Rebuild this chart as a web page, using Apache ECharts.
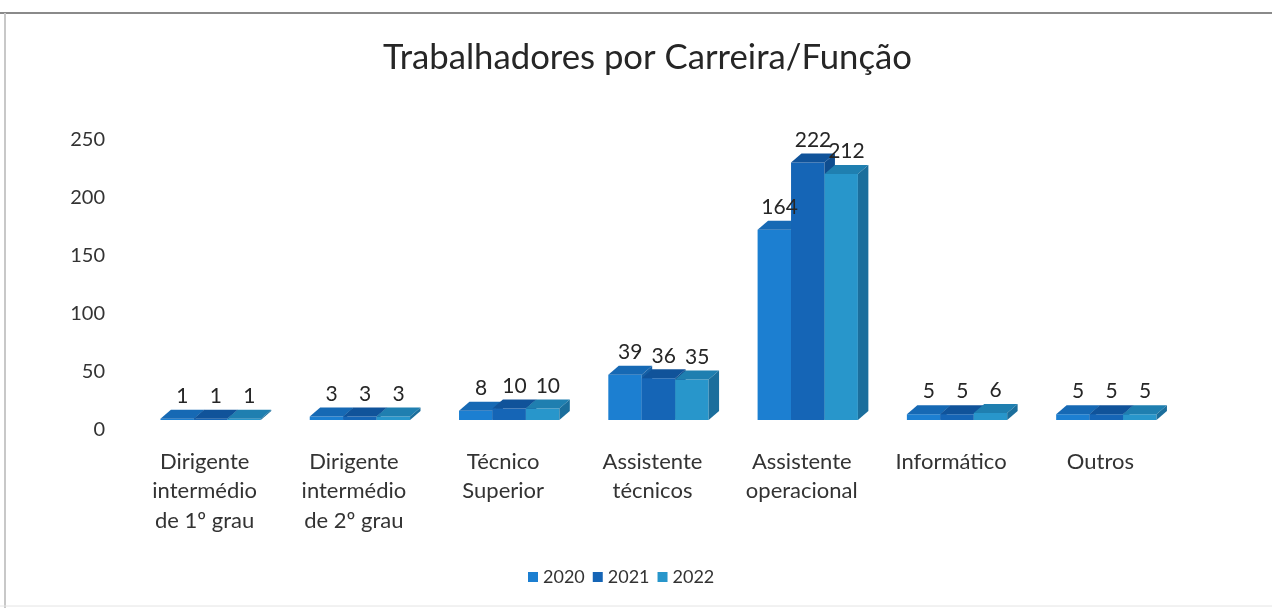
<!DOCTYPE html>
<html>
<head>
<meta charset="utf-8">
<script src="https://cdn.jsdelivr.net/npm/echarts@6/dist/echarts.min.js"></script>
<style>
html,body{margin:0;padding:0;background:#fff;}
#c{width:1272px;height:608px;}
</style>
</head>
<body>
<div id="c"></div>
<script>
var categories = ['Dirigente\nintermédio\nde 1º grau', 'Dirigente\nintermédio\nde 2º grau', 'Técnico\nSuperior', 'Assistente\ntécnicos', 'Assistente\noperacional', 'Informático', 'Outros'];
var years = ['2020', '2021', '2022'];
var values2020 = [1, 3, 8, 39, 164, 5, 5];
var values2021 = [1, 3, 10, 36, 222, 5, 5];
var values2022 = [1, 3, 10, 35, 212, 6, 5];
var yTicks = [0, 50, 100, 150, 200, 250];

var seriesValues = [values2020, values2021, values2022];
var frontColors = ['#1c7fd1', '#1565b6', '#2896cb'];
var topColors = ['#1669b4', '#10539a', '#1f7fb0'];
var sideColors = ['#1560a6', '#0f4d8f', '#1b6e9c'];
var FONT = 'Lato, "Open Sans", sans-serif';

function makeRender(j) {
  return function (params, api) {
    var i = api.value(0), v = api.value(1);
    var base = api.coord([i, 0]);
    var top = api.coord([i, v]);
    var band = api.size([1, 0])[0];
    var w = band * 0.224;
    var x0 = base[0] + band * 0.04 - 1.5 * w + j * w;
    var x1 = x0 + w;
    var yb = base[1], yt = top[1];
    var dx = band * 0.07, dy = -9;
    return {
      type: 'group',
      children: [
        { type: 'rect', shape: { x: x0, y: yt, width: w, height: yb - yt },
          style: { fill: frontColors[j] } },
        { type: 'polygon', shape: { points: [[x0, yt], [x1, yt], [x1 + dx, yt + dy], [x0 + dx, yt + dy]] },
          style: { fill: topColors[j] } },
        { type: 'polygon', shape: { points: [[x1, yt], [x1 + dx, yt + dy], [x1 + dx, yb + dy], [x1, yb]] },
          style: { fill: sideColors[j] } },
        { type: 'text', z2: 100,
          style: { text: String(v), x: x0 + w / 2 + dx / 2, y: yt + dy - 3, align: 'center', verticalAlign: 'bottom',
                   fill: '#262626', fontSize: 21, fontFamily: FONT } }
      ]
    };
  };
}

var series = years.map(function (y, j) {
  return {
    name: y,
    type: 'custom',
    renderItem: makeRender(j),
    itemStyle: { color: frontColors[j] },
    encode: { x: 0, y: 1 },
    data: seriesValues[j].map(function (v, i) { return [i, v]; })
  };
});

var chart = echarts.init(document.getElementById('c'));
chart.setOption({
  backgroundColor: '#fff',
  animation: false,
  title: {
    text: 'Trabalhadores por Carreira/Função',
    left: 378, top: 35,
    textStyle: { fontSize: 34.7, fontWeight: 'normal', color: '#262626', fontFamily: FONT }
  },
  legend: {
    data: years, bottom: 17, left: 523,
    icon: 'rect', itemWidth: 10, itemHeight: 10, itemGap: 8,
    textStyle: { fontSize: 18, color: '#333', fontFamily: FONT }
  },
  grid: { left: 130, right: 97, top: 130, bottom: 188, containLabel: false },
  xAxis: {
    type: 'category', data: categories,
    axisLine: { show: false }, axisTick: { show: false }, splitLine: { show: false },
    axisLabel: { interval: 0, margin: 27, fontSize: 22, lineHeight: 29.5, color: '#333', fontFamily: FONT }
  },
  yAxis: {
    type: 'value', min: yTicks[0], max: yTicks[yTicks.length - 1], interval: 50,
    axisLine: { show: false }, axisTick: { show: false }, splitLine: { show: false },
    axisLabel: { fontSize: 20, lineHeight: 20, color: '#333', fontFamily: FONT, margin: 25, verticalAlign: 'top' }
  },
  graphic: [
    { type: 'line', shape: { x1: 0, y1: 13, x2: 1272, y2: 13 }, style: { stroke: '#8a8a8a', lineWidth: 2 } },
    { type: 'line', shape: { x1: 5, y1: 13, x2: 5, y2: 608 }, style: { stroke: '#c8c8c8', lineWidth: 2 } },
    { type: 'line', shape: { x1: 0, y1: 606, x2: 1272, y2: 606 }, style: { stroke: '#e4e4e4', lineWidth: 1 } }
  ],
  series: series
});
</script>
</body>
</html>
